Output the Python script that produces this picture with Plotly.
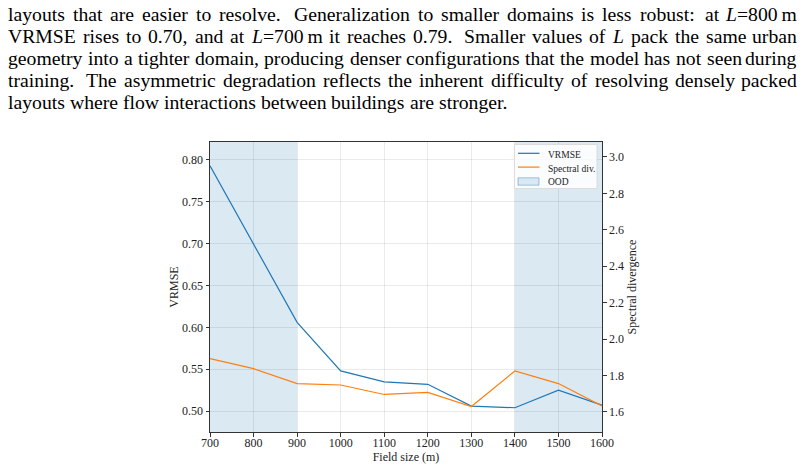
import re
import plotly.graph_objects as go

field_size = [700, 800, 900, 1000, 1100, 1200, 1300, 1400, 1500, 1600]
vrmse = [0.793, 0.700, 0.606, 0.548, 0.535, 0.532, 0.506, 0.504, 0.525, 0.507]
spectral_div = [1.893, 1.838, 1.756, 1.748, 1.696, 1.707, 1.630, 1.825, 1.756, 1.633]
ood_ranges = [(700, 900), (1400, 1600)]
x_ticks = [700, 800, 900, 1000, 1100, 1200, 1300, 1400, 1500, 1600]
y_left_ticks = [0.50, 0.55, 0.60, 0.65, 0.70, 0.75, 0.80]
y_right_ticks = [1.6, 1.8, 2.0, 2.2, 2.4, 2.6, 2.8, 3.0]
legend_labels = ["VRMSE", "Spectral div.", "OOD"]
paragraph = [
    "layouts that are easier to resolve. Generalization to smaller domains is less robust: at <i>L</i>=800\u2009m",
    "VRMSE rises to 0.70, and at <i>L</i>=700\u2009m it reaches 0.79. Smaller values of <i>L</i> pack the same urban",
    "geometry into a tighter domain, producing denser configurations that the model has not seen during",
    "training. The asymmetric degradation reflects the inherent difficulty of resolving densely packed",
    "layouts where flow interactions between buildings are stronger.",
]
justified = [True, True, True, True, False]

FONT = "Liberation Serif"
L, R, T, B = 210, 203, 142, 37
W, H = 805, 469
PW, PH = W - L - R, H - T - B
yl_range = [0.475, 0.8215]
yr_range = [1.49, 3.082]
BLUE, ORANGE = "#1f77b4", "#ff7f0e"
OOD_FILL = "rgba(31,119,180,0.16)"

# Times metrics (per 1000 em) for text layout
TIMES = dict(zip("abcdefghijklmnopqrstuvwxyz",
                 [444, 500, 444, 500, 444, 333, 500, 500, 278, 278, 500, 278, 778, 500, 500, 500, 500, 333, 389, 278, 500, 500, 722, 500, 500, 444]))
TIMES.update(zip("ABCDEFGHIJKLMNOPQRSTUVWXYZ",
                 [722, 667, 667, 722, 611, 556, 722, 722, 333, 389, 722, 611, 889, 722, 722, 556, 722, 667, 556, 611, 722, 722, 944, 722, 722, 611]))
TIMES.update({c: 500 for c in "0123456789"})
TIMES.update({".": 250, ",": 250, ":": 278, "=": 564, "\u2009": 167, "(": 333, ")": 333})


def word_width(word, size):
    plain = re.sub(r"<[^>]+>", "", word)
    units = sum(TIMES.get(ch, 500) for ch in plain)
    return units * size / 1000.0


def px_to_paper_x(px):
    return (px - L) / PW


def px_to_paper_y(py):
    return (H - B - py) / PH


fig = go.Figure()

# OOD shading
for a, b in ood_ranges:
    fig.add_shape(type="rect", xref="x", yref="paper", x0=a, x1=b, y0=0, y1=1,
                  fillcolor=OOD_FILL, line=dict(width=0), layer="below")

fig.add_trace(go.Scatter(x=field_size, y=vrmse, mode="lines", name=legend_labels[0],
                         line=dict(color=BLUE, width=1.2), showlegend=False))
fig.add_trace(go.Scatter(x=field_size, y=spectral_div, mode="lines", name=legend_labels[1],
                         line=dict(color=ORANGE, width=1.2), yaxis="y2", showlegend=False))

# Paragraph text, justified word by word
PSIZE = 19.7
LEFT_PX, RIGHT_PX = 7, 797.5
for i, (line, just) in enumerate(zip(paragraph, justified)):
    ypix = 14 + 22 * i
    words = line.split(" ")
    widths = [word_width(w, PSIZE) for w in words]
    space = 250 * PSIZE / 1000.0
    weights = []
    for w in words[:-1]:
        if w.endswith("."):
            weights.append(3.0)
        elif w.endswith(":"):
            weights.append(2.0)
        elif w.endswith(","):
            weights.append(1.25)
        else:
            weights.append(1.0)
    natural = sum(widths) + space * len(weights)
    extra = (RIGHT_PX - LEFT_PX - natural) if just else 0.0
    wsum = sum(weights)
    x = LEFT_PX
    for j, w in enumerate(words):
        last = just and j == len(words) - 1
        fig.add_annotation(text=w, xref="paper", yref="paper",
                           x=px_to_paper_x(RIGHT_PX if last else x), y=px_to_paper_y(ypix),
                           xanchor="right" if last else "left", yanchor="middle",
                           showarrow=False, borderpad=0,
                           font=dict(family=FONT, size=PSIZE, color="black"))
        if j < len(weights):
            x += widths[j] + space + extra * weights[j] / wsum

# Custom legend (matplotlib-like compact box)
fig.add_shape(type="rect", xref="paper", yref="paper",
              x0=px_to_paper_x(514.5), x1=px_to_paper_x(597), y0=px_to_paper_y(144.5), y1=px_to_paper_y(188.5),
              fillcolor="rgba(255,255,255,0.85)", line=dict(color="#dcdcdc", width=1), layer="above")
leg_rows = [154, 167.8, 181.6]
for k, (lab, col) in enumerate(zip(legend_labels, [BLUE, ORANGE, None])):
    yy = leg_rows[k]
    if col is not None:
        fig.add_shape(type="line", xref="paper", yref="paper",
                      x0=px_to_paper_x(518), x1=px_to_paper_x(539.5),
                      y0=px_to_paper_y(yy - 0.7), y1=px_to_paper_y(yy - 0.7),
                      line=dict(color=col, width=1.2), layer="above")
    else:
        fig.add_shape(type="rect", xref="paper", yref="paper",
                      x0=px_to_paper_x(518), x1=px_to_paper_x(539),
                      y0=px_to_paper_y(yy - 3.8), y1=px_to_paper_y(yy + 3.6),
                      fillcolor="rgb(219,231,242)", line=dict(color="rgba(31,119,180,0.4)", width=1),
                      layer="above")
    fig.add_annotation(text=lab, xref="paper", yref="paper",
                       x=px_to_paper_x(546.5), y=px_to_paper_y(yy + 0.8),
                       xanchor="left", yanchor="middle", showarrow=False, borderpad=0,
                       font=dict(family=FONT, size=9.5, color="#222"))

axis_common = dict(showline=True, linecolor="#333", linewidth=1, ticks="outside", automargin=False,
                   ticklen=3.5, tickcolor="#333", tickfont=dict(family=FONT, size=12, color="#222"))

fig.update_layout(
    width=W, height=H, margin=dict(l=L, r=R, t=T, b=B),
    paper_bgcolor="white", plot_bgcolor="white",
    font=dict(family=FONT, color="#222"),
    showlegend=False,
    xaxis=dict(range=[700, 1600], tickvals=x_ticks, mirror=True, ticklabelstandoff=-4,
               showgrid=True, gridcolor="rgba(0,0,0,0.08)", gridwidth=1,
               title=dict(text="Field size (m)", font=dict(family=FONT, size=12), standoff=1),
               zeroline=False, **axis_common),
    yaxis=dict(range=yl_range, tickvals=y_left_ticks, tickformat=".2f",
               showgrid=True, gridcolor="rgba(0,0,0,0.08)", gridwidth=1, zeroline=False,
               title=dict(text="VRMSE", font=dict(family=FONT, size=12), standoff=0),
               **axis_common),
    yaxis2=dict(range=yr_range, tickvals=y_right_ticks, tickformat=".1f", overlaying="y",
                side="right", showgrid=False, zeroline=False,
                title=dict(text="Spectral divergence", font=dict(family=FONT, size=12), standoff=4),
                **axis_common),
)

fig.write_html("out.html")
